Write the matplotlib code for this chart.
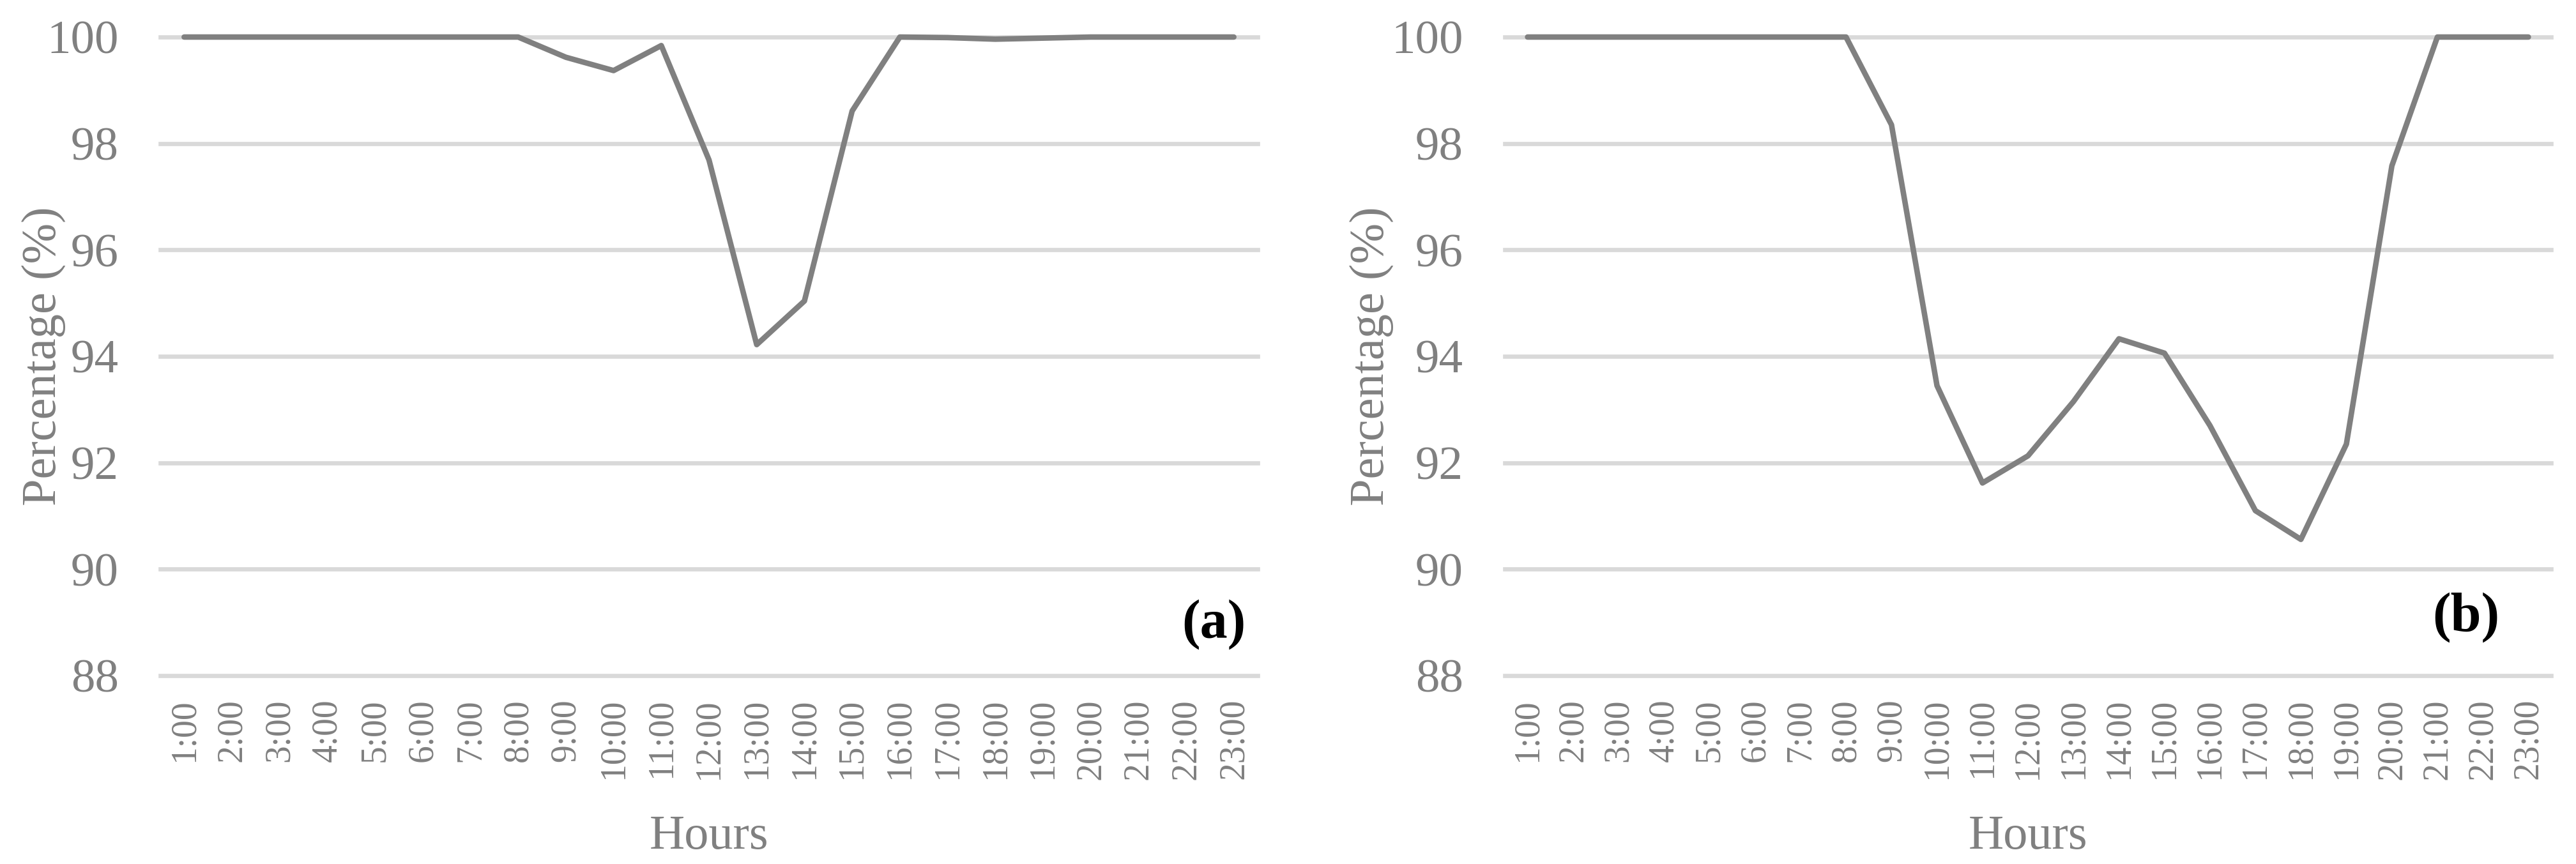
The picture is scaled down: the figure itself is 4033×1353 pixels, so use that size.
import matplotlib
matplotlib.use('Agg')
import matplotlib.pyplot as plt

hours = ['1:00', '2:00', '3:00', '4:00', '5:00', '6:00', '7:00', '8:00',
         '9:00', '10:00', '11:00', '12:00', '13:00', '14:00', '15:00',
         '16:00', '17:00', '18:00', '19:00', '20:00', '21:00', '22:00', '23:00']

pct_a = [100, 100, 100, 100, 100, 100, 100, 100,
         99.62, 99.37, 99.84, 97.69, 94.22, 95.04, 98.61,
         100, 99.99, 99.96, 99.98, 100, 100, 100, 100]

pct_b = [100, 100, 100, 100, 100, 100, 100, 100,
         98.35, 93.45, 91.62, 92.13, 93.15, 94.33, 94.06, 92.7,
         91.1, 90.56, 92.35, 97.58, 100, 100, 100]

yticks = [88, 90, 92, 94, 96, 98, 100]

grey = '#808080'
grid_grey = '#D9D9D9'

plt.rcParams['font.family'] = ['Liberation Serif', 'DejaVu Serif']

fig = plt.figure(figsize=(40.33, 13.53), dpi=100)

panels = [
    (pct_a, '(a)', [0.06224, 0.21803, 0.42599, 0.7391], -0.086, 0.989, 0.08),
    (pct_b, '(b)', [0.58418, 0.21803, 0.40615, 0.7391], -0.106, 0.9505, 0.091),
]

for values, tag, rect, ylab_x, tag_x, tag_y in panels:
    ax = fig.add_axes(rect)
    x = list(range(len(hours)))
    ax.plot(x, values, color=grey, lw=6.2, solid_capstyle='round',
            solid_joinstyle='round', clip_on=False, zorder=3)
    ax.set_xlim(-0.5, len(hours) - 0.5)
    ax.set_ylim(88, 100)
    ax.set_yticks(yticks)
    ax.set_xticks(x)
    ax.set_xticklabels(hours, rotation=90)
    ax.tick_params(axis='y', length=0, pad=47, labelsize=54, labelcolor=grey)
    ax.tick_params(axis='x', length=0, pad=26, labelsize=40, labelcolor=grey)
    ax.grid(axis='y', color=grid_grey, lw=4.8)
    for gl in ax.get_ygridlines():
        gl.set_clip_on(False)
    ax.set_axisbelow(True)
    for s in ax.spines.values():
        s.set_visible(False)

    ax.set_ylabel('Percentage (%)', fontsize=55, color=grey)
    ax.yaxis.set_label_coords(ylab_x, 0.5)
    ax.set_xlabel('Hours', fontsize=55, color=grey)
    ax.xaxis.set_label_coords(0.5, -0.252)
    ax.xaxis.label.set_va('center')

    ax.text(tag_x, tag_y, tag, transform=ax.transAxes, ha='right', va='center',
            fontsize=62, fontweight='bold', color='black')

fig.savefig('out.png', dpi=100)
